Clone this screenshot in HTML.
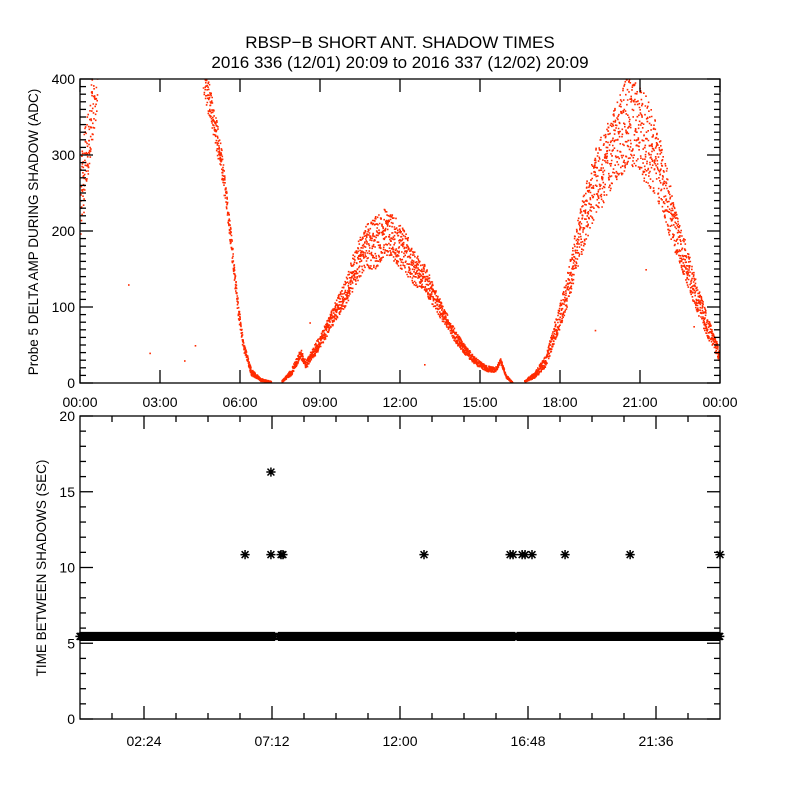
<!DOCTYPE html>
<html><head><meta charset="utf-8"><style>
html,body{margin:0;padding:0;background:#fff;width:800px;height:800px;overflow:hidden}
svg text{font-family:"Liberation Sans",sans-serif;fill:#000}
</style></head><body>
<svg id="chart" width="800" height="800" viewBox="0 0 800 800">
<text x="400" y="48" font-size="17" text-anchor="middle">RBSP−B SHORT ANT. SHADOW TIMES</text>
<text x="400" y="68" font-size="17" text-anchor="middle">2016 336 (12/01) 20:09 to 2016 337 (12/02) 20:09</text>
<text transform="translate(38,232) rotate(-90)" font-size="13.5" text-anchor="middle">Probe 5 DELTA AMP DURING SHADOW (ADC)</text>
<text transform="translate(46,568) rotate(-90)" font-size="13.5" text-anchor="middle">TIME BETWEEN SHADOWS (SEC)</text>
<g id="topPanel"></g>
<g id="botPanel"></g>
</svg>
<script>
// Top panel data: hour, center amplitude, spread
const ampHours  = [0,0.3,0.65, 4.6,5.25,5.6,5.9,6.1,6.4,6.75,7.15, 7.55,7.9,8.25,8.45,8.8,9.2,9.55,9.95,10.3,10.7,11.05,11.4,11.8,12.2,12.55,12.9,13.3,13.7,14.05,14.4,14.8,15.2,15.55,15.75,15.95,16.2, 16.65,17.05,17.45,17.8,18.2,18.55,18.95,19.3,19.7,20.05,20.45,20.8,21.2,21.55,21.95,22.3,22.7,23.05,23.45,23.8,24];
const ampCenter = [240,330,410, 410,300,200,100,50,15,5,2, 3,15,40,25,45,70,95,120,155,180,185,200,190,170,150,140,110,85,62,45,30,20,18,30,10,1, 3,12,30,70,115,170,225,265,290,320,340,345,320,300,250,200,160,120,80,50,35];
const ampSpread = [50,50,40, 25,20,15,10,6,4,2,1, 1,4,6,5,8,10,12,18,25,28,35,30,30,28,22,18,14,10,8,6,5,4,3,3,2,1, 1,4,8,14,20,30,40,45,50,55,60,60,60,50,40,30,25,20,15,10,8];
const ampBreaks = [2,10,36];
// Bottom panel data
const gapStart = [0, 7.45, 16.4];
const gapEnd   = [7.3, 16.3, 24];
const baseValue = 5.45;
const outHours = [6.19,7.16,7.16,7.54,7.61,12.9,16.13,16.24,16.58,16.69,16.95,18.19,20.63,24];
const outVals  = [10.85,16.3,10.85,10.85,10.85,10.85,10.85,10.85,10.85,10.85,10.85,10.85,10.85,10.85];
const topTickLabels = ["00:00","03:00","06:00","09:00","12:00","15:00","18:00","21:00","00:00"];
const topYTicks = [0,100,200,300,400];
const botYTicks = [0,5,10,15,20];
const botTickLabels = ["02:24","07:12","12:00","16:48","21:36"];
const botTickHours = [2.4,7.2,12,16.8,21.6];

const NS="http://www.w3.org/2000/svg";
const L=80,R=720,TT=79,TB=383,BT=416,BB=719;
const xs=h=>L+(R-L)*h/24;
const yT=v=>TB-(TB-TT)*v/400;
const yB=v=>BB-(BB-BT)*v/20;
function mk(t,a,p){const e=document.createElementNS(NS,t);for(const k in a)e.setAttribute(k,a[k]);p.appendChild(e);return e;}
const topG=document.getElementById('topPanel'), botG=document.getElementById('botPanel');

const clip=mk('clipPath',{id:'ct'},topG);mk('rect',{x:L,y:TT,width:R-L,height:TB-TT},clip);
const pts=mk('g',{'clip-path':'url(#ct)',fill:'#ff2a00'},topG);


let d='';
function hash(i){const s=Math.sin(i*12.9898)*43758.5453;return s-Math.floor(s);}
let n=0;
for(let i=0;i<ampHours.length-1;i++){
  if(ampBreaks.includes(i))continue;
  const h0=ampHours[i],h1=ampHours[i+1];
  const steps=Math.max(2,Math.round((h1-h0)*220));
  for(let k=0;k<steps;k++){
    const f=k/steps,h=h0+(h1-h0)*f;
    const c=ampCenter[i]+(ampCenter[i+1]-ampCenter[i])*f;
    const s=ampSpread[i]+(ampSpread[i+1]-ampSpread[i])*f;
    n++;
    const v=Math.max(0,c+(hash(n)*2-1)*s);
    const x=xs(h),y=yT(v);
    d+=`M${x.toFixed(1)} ${y.toFixed(1)}h1.6v1.6h-1.6z`;
  }
}
mk('path',{d:d},pts);
[[1.8,130],[3.9,30],[8.6,80],[4.3,50],[2.6,40],[12.9,25],[19.3,70],[23,75],[21.2,150]].forEach(p=>{mk('rect',{x:xs(p[0]),y:yT(p[1]),width:1.6,height:1.6,fill:'#ff2a00'},pts);});

const ax=mk('g',{stroke:'#000','stroke-width':1.3,fill:'none'},topG);


mk('rect',{x:L,y:TT,width:R-L,height:TB-TT},ax);
for(let v=0;v<=400;v+=10){const y=yT(v),len=(v%100==0)?13:6;mk('line',{x1:L,y1:y,x2:L+len,y2:y},ax);mk('line',{x1:R,y1:y,x2:R-len,y2:y},ax);}
topTickLabels.forEach((t,i)=>{const x=xs(i*3);mk('line',{x1:x,y1:TB,x2:x,y2:TB-13},ax);mk('line',{x1:x,y1:TT,x2:x,y2:TT+13},ax);
 const tx=mk('text',{x:x,y:407,'font-size':14,'text-anchor':'middle'},topG);tx.textContent=t;
 
 });
topYTicks.forEach(v=>{const tx=mk('text',{x:L-5,y:yT(v)+5,'font-size':14,'text-anchor':'end'},topG);tx.textContent=v;
 
 });

const bp=mk('g',{stroke:'#000','stroke-width':1.5},botG);


let bd='';
function star(x,y){const r=4.6;bd+=`M${x-r} ${y}h${2*r}M${x} ${y-r}v${2*r}M${x-r*.75} ${y-r*.75}l${1.5*r} ${1.5*r}M${x-r*.75} ${y+r*.75}l${1.5*r} ${-1.5*r}`;}
for(let g=0;g<gapStart.length;g++){for(let h=gapStart[g];h<=gapEnd[g];h+=0.03){star(xs(h),yB(baseValue));}}
outHours.forEach((h,i)=>star(xs(h),yB(outVals[i])));
mk('path',{d:bd,fill:'none'},bp);

const bx=mk('g',{stroke:'#000','stroke-width':1.3,fill:'none'},botG);


mk('rect',{x:L,y:BT,width:R-L,height:BB-BT},bx);
for(let v=0;v<=20;v++){const y=yB(v),len=(v%5==0)?13:6;mk('line',{x1:L,y1:y,x2:L+len,y2:y},bx);mk('line',{x1:R,y1:y,x2:R-len,y2:y},bx);}
for(let k=1;k<20;k++){const x=xs(k*1.2),len=(k%4==2)?13:6;mk('line',{x1:x,y1:BB,x2:x,y2:BB-len},bx);mk('line',{x1:x,y1:BT,x2:x,y2:BT+len},bx);}
botTickLabels.forEach((t,i)=>{const tx=mk('text',{x:xs(botTickHours[i]),y:746,'font-size':14,'text-anchor':'middle'},botG);tx.textContent=t;
 
 });
botYTicks.forEach(v=>{const tx=mk('text',{x:L-5,y:yB(v)+5,'font-size':14,'text-anchor':'end'},botG);tx.textContent=v;
 
 });
</script>
</body></html>
